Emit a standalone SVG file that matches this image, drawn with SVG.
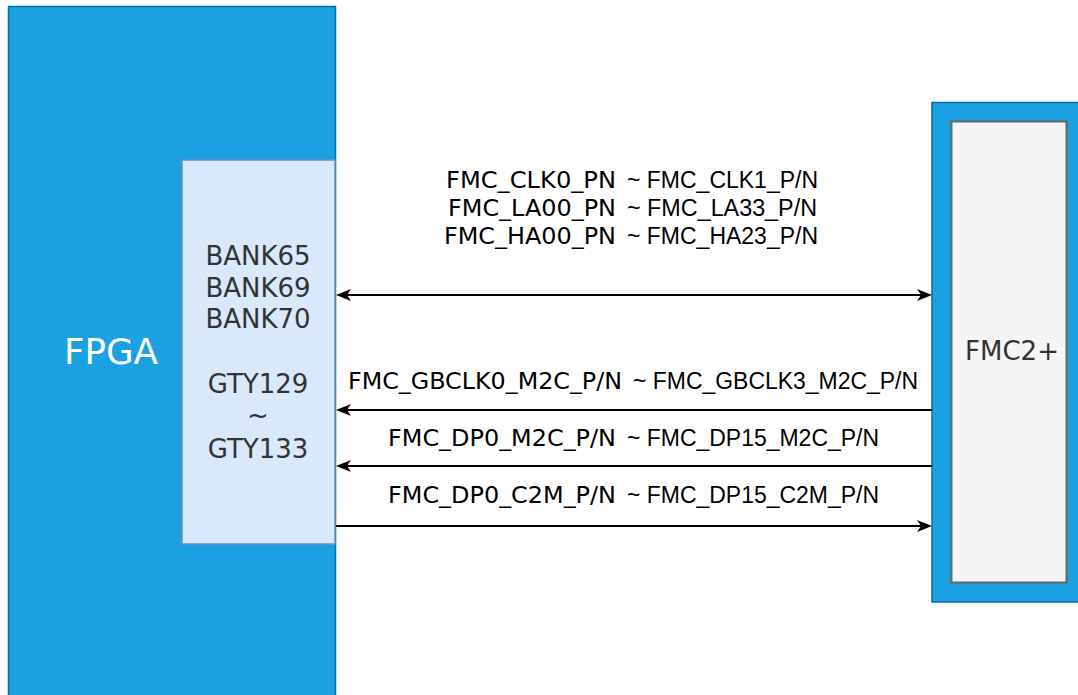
<svg xmlns="http://www.w3.org/2000/svg" width="1078" height="695" viewBox="0 0 1078 695">
  <style>
    .blue { fill: #1ba1e2; stroke: #006eaf; stroke-width: 1.5; }
    .bank { fill: #dae8fc; stroke: #6c8ebf; stroke-width: 1.5; }
    .slot { fill: #f5f5f5; stroke: #666666; stroke-width: 2; }
    .vd { font-family: "DejaVu Sans", Verdana, sans-serif; }
    .ar { font-family: "Liberation Sans", Arial, sans-serif; }
    .lbl { fill: #000000; }
    .lbl .vd { font-size: 23px; }
    .lbl .ar { font-size: 23px; }
    .blk { font-size: 26px; fill: #333333; text-anchor: middle; }
    .wire { fill: none; stroke: #000000; stroke-width: 2; }
  </style>
  <defs>
    <marker id="arrow" markerUnits="userSpaceOnUse" markerWidth="15" markerHeight="12" refX="4" refY="6" orient="auto-start-reverse" viewBox="0 0 15 12">
      <path d="M0,0 L15,6 L0,12 L4,6 Z" fill="#000000"/>
    </marker>
  </defs>

  <rect width="1078" height="695" fill="#ffffff"/>

  <!-- FPGA device with its I/O bank block -->
  <g id="fpga">
    <rect class="blue" x="8.5" y="6.5" width="327" height="700"/>
    <text class="vd" x="111" y="364" font-size="35" fill="#ffffff" text-anchor="middle" textLength="94" lengthAdjust="spacingAndGlyphs">FPGA</text>
  </g>
  <g id="banks">
    <rect class="bank" x="182" y="160" width="153" height="384"/>
    <text class="vd blk" x="258" y="265">BANK65</text>
    <text class="vd blk" x="258" y="297">BANK69</text>
    <text class="vd blk" x="258" y="328">BANK70</text>
    <text class="vd blk" x="258" y="393">GTY129</text>
    <text class="vd blk" x="258" y="424">~</text>
    <text class="vd blk" x="258" y="458">GTY133</text>
  </g>

  <!-- FMC2+ connector -->
  <g id="fmc">
    <rect class="blue" x="932" y="102.5" width="150" height="499.5"/>
    <rect class="slot" x="951.5" y="121.5" width="115" height="461"/>
    <text class="vd blk" x="1012" y="360">FMC2+</text>
  </g>

  <!-- signal groups between FPGA and FMC -->
  <g id="connectors">
    <path class="wire" d="M347,295 H921" marker-start="url(#arrow)" marker-end="url(#arrow)"/>
    <path class="wire" d="M932,410 H347" marker-end="url(#arrow)"/>
    <path class="wire" d="M932,466 H347" marker-end="url(#arrow)"/>
    <path class="wire" d="M336,526 H921" marker-end="url(#arrow)"/>
  </g>

  <g id="labels" class="lbl">
    <text y="188"><tspan class="vd" x="446" textLength="170" lengthAdjust="spacingAndGlyphs">FMC_CLK0_PN</tspan><tspan class="ar" x="627" textLength="191" lengthAdjust="spacingAndGlyphs">~ FMC_CLK1_P/N</tspan></text>
    <text y="216"><tspan class="vd" x="448" textLength="168" lengthAdjust="spacingAndGlyphs">FMC_LA00_PN</tspan><tspan class="ar" x="627" textLength="190" lengthAdjust="spacingAndGlyphs">~ FMC_LA33_P/N</tspan></text>
    <text y="244"><tspan class="vd" x="444" textLength="172" lengthAdjust="spacingAndGlyphs">FMC_HA00_PN</tspan><tspan class="ar" x="627" textLength="191" lengthAdjust="spacingAndGlyphs">~ FMC_HA23_P/N</tspan></text>
    <text y="389"><tspan class="vd" x="348" textLength="274" lengthAdjust="spacingAndGlyphs">FMC_GBCLK0_M2C_P/N</tspan><tspan class="ar" x="633" textLength="285" lengthAdjust="spacingAndGlyphs">~ FMC_GBCLK3_M2C_P/N</tspan></text>
    <text y="446"><tspan class="vd" x="388" textLength="228" lengthAdjust="spacingAndGlyphs">FMC_DP0_M2C_P/N</tspan><tspan class="ar" x="627" textLength="252" lengthAdjust="spacingAndGlyphs">~ FMC_DP15_M2C_P/N</tspan></text>
    <text y="503"><tspan class="vd" x="388" textLength="228" lengthAdjust="spacingAndGlyphs">FMC_DP0_C2M_P/N</tspan><tspan class="ar" x="627" textLength="252" lengthAdjust="spacingAndGlyphs">~ FMC_DP15_C2M_P/N</tspan></text>
  </g>
</svg>
